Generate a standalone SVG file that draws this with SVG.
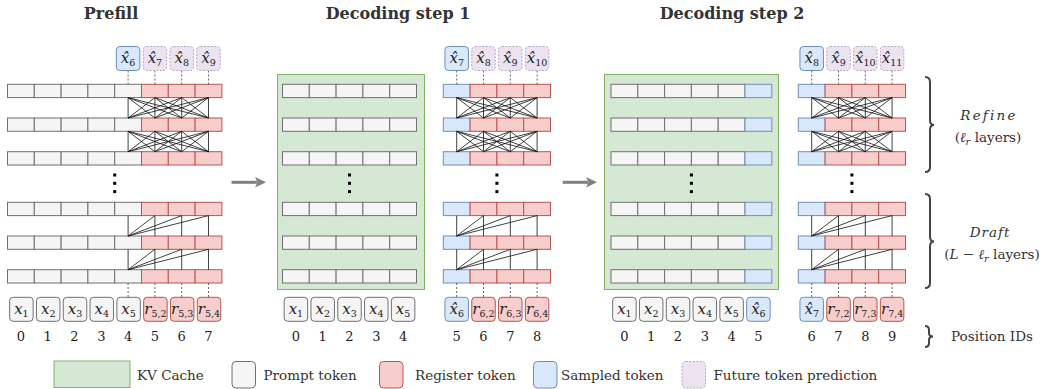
<svg xmlns="http://www.w3.org/2000/svg" xmlns:xlink="http://www.w3.org/1999/xlink" width="1049" height="389" viewBox="0 0 1049 389">
<style>
.g{fill:#f5f5f5;stroke:#707070;stroke-width:1}
.r{fill:#f8cecc;stroke:#b85450;stroke-width:1}
.b{fill:#dae8fc;stroke:#6c8ebf;stroke-width:1}
.f{fill:#ebe3f0;stroke:#b8a6c6;stroke-width:1;stroke-dasharray:2 1.5}
.kv{fill:#d5e8d4;stroke:#82b366;stroke-width:1}
.m{font-family:"DejaVu Serif",serif;font-style:italic;font-size:15px;fill:#222;text-anchor:middle}
.s{font-style:normal;font-size:9.5px}
.n{font-family:"DejaVu Serif",serif;font-size:13px;fill:#222;text-anchor:middle}
.t{font-family:"DejaVu Serif",serif;font-weight:bold;font-size:16px;fill:#333;text-anchor:middle}
.l{font-family:"DejaVu Serif",serif;font-size:13.5px;fill:#333}
.dash{stroke:#555;stroke-width:0.9;stroke-dasharray:2 2;fill:none}
.att{stroke:#111;stroke-width:0.8;fill:none}
.br{stroke:#444;stroke-width:2;fill:none}
.dot{fill:#000}
</style>
<defs>
<g id="rowP">
<rect class="g" x="7.5" y="0" width="26.8" height="13.3"/><rect class="g" x="34.3" y="0" width="26.8" height="13.3"/><rect class="g" x="61.1" y="0" width="26.8" height="13.3"/><rect class="g" x="87.9" y="0" width="26.8" height="13.3"/><rect class="g" x="114.7" y="0" width="26.8" height="13.3"/>
<rect class="r" x="141.5" y="0" width="26.8" height="13.3"/><rect class="r" x="168.3" y="0" width="26.8" height="13.3"/><rect class="r" x="195.1" y="0" width="26.8" height="13.3"/>
</g>
<g id="rowS1L">
<rect class="g" x="282.5" y="0" width="26.8" height="13.3"/><rect class="g" x="309.3" y="0" width="26.8" height="13.3"/><rect class="g" x="336.1" y="0" width="26.8" height="13.3"/><rect class="g" x="362.9" y="0" width="26.8" height="13.3"/><rect class="g" x="389.7" y="0" width="26.8" height="13.3"/>
</g>
<g id="rowS1R">
<rect class="b" x="443.3" y="0" width="26.8" height="13.3"/><rect class="r" x="470.1" y="0" width="26.8" height="13.3"/><rect class="r" x="496.9" y="0" width="26.8" height="13.3"/><rect class="r" x="523.7" y="0" width="26.8" height="13.3"/>
</g>
<g id="rowS2L">
<rect class="g" x="611" y="0" width="26.8" height="13.3"/><rect class="g" x="637.8" y="0" width="26.8" height="13.3"/><rect class="g" x="664.6" y="0" width="26.8" height="13.3"/><rect class="g" x="691.4" y="0" width="26.8" height="13.3"/><rect class="g" x="718.2" y="0" width="26.8" height="13.3"/><rect class="b" x="745" y="0" width="26.8" height="13.3"/>
</g>
<g id="rowS2R">
<rect class="b" x="798.3" y="0" width="26.8" height="13.3"/><rect class="r" x="825.1" y="0" width="26.8" height="13.3"/><rect class="r" x="851.9" y="0" width="26.8" height="13.3"/><rect class="r" x="878.7" y="0" width="26.8" height="13.3"/>
</g>
<path id="full" class="att" d="M0 0L0 20.4M0 0L26.8 20.4M0 0L53.6 20.4M0 0L80.4 20.4M26.8 0L0 20.4M26.8 0L26.8 20.4M26.8 0L53.6 20.4M26.8 0L80.4 20.4M53.6 0L0 20.4M53.6 0L26.8 20.4M53.6 0L53.6 20.4M53.6 0L80.4 20.4M80.4 0L0 20.4M80.4 0L26.8 20.4M80.4 0L53.6 20.4M80.4 0L80.4 20.4"/>
<path id="draft" class="att" d="M0 0V20.4M26.8 0V20.4M53.6 0V20.4M80.4 0V20.4M0 20.4L26.8 0M0 20.4L53.6 0M0 20.4L80.4 0"/>
<g id="dots"><rect class="dot" x="-1.5" y="173.5" width="3" height="3"/><rect class="dot" x="-1.5" y="181.8" width="3" height="3"/><rect class="dot" x="-1.5" y="190.1" width="3" height="3"/></g>
</defs>

<g id="titles">
<text class="t" x="111" y="19">Prefill</text>
<text class="t" x="398" y="19">Decoding step 1</text>
<text class="t" x="732" y="19">Decoding step 2</text>
</g>

<g id="kv-cache-1"><rect class="kv" x="277.5" y="74.5" width="147" height="215"/></g>
<g id="kv-cache-2"><rect class="kv" x="604.5" y="74.5" width="174" height="215"/></g>

<g id="prefill-layers">
<use href="#rowP" y="84.3"/><use href="#rowP" y="118"/><use href="#rowP" y="151.7"/>
<use href="#rowP" y="202.3"/><use href="#rowP" y="236"/><use href="#rowP" y="269.7"/>
<use href="#dots" x="114.7"/>
</g>
<g id="step1-layers">
<use href="#rowS1L" y="84.3"/><use href="#rowS1L" y="118"/><use href="#rowS1L" y="151.7"/>
<use href="#rowS1L" y="202.3"/><use href="#rowS1L" y="236"/><use href="#rowS1L" y="269.7"/>
<use href="#dots" x="349.5"/>
<use href="#rowS1R" y="84.3"/><use href="#rowS1R" y="118"/><use href="#rowS1R" y="151.7"/>
<use href="#rowS1R" y="202.3"/><use href="#rowS1R" y="236"/><use href="#rowS1R" y="269.7"/>
<use href="#dots" x="496.9"/>
</g>
<g id="step2-layers">
<use href="#rowS2L" y="84.3"/><use href="#rowS2L" y="118"/><use href="#rowS2L" y="151.7"/>
<use href="#rowS2L" y="202.3"/><use href="#rowS2L" y="236"/><use href="#rowS2L" y="269.7"/>
<use href="#dots" x="691.4"/>
<use href="#rowS2R" y="84.3"/><use href="#rowS2R" y="118"/><use href="#rowS2R" y="151.7"/>
<use href="#rowS2R" y="202.3"/><use href="#rowS2R" y="236"/><use href="#rowS2R" y="269.7"/>
<use href="#dots" x="851.9"/>
</g>

<g id="connectors">
<use href="#full" x="128.1" y="97.6"/><use href="#full" x="128.1" y="131.3"/>
<use href="#draft" x="128.1" y="215.6"/><use href="#draft" x="128.1" y="249.3"/>
<use href="#full" x="456.7" y="97.6"/><use href="#full" x="456.7" y="131.3"/>
<use href="#draft" x="456.7" y="215.6"/><use href="#draft" x="456.7" y="249.3"/>
<use href="#full" x="811.7" y="97.6"/><use href="#full" x="811.7" y="131.3"/>
<use href="#draft" x="811.7" y="215.6"/><use href="#draft" x="811.7" y="249.3"/>
<path class="dash" d="M128.1 70.5V84.3M154.9 70.5V84.3M181.7 70.5V84.3M208.5 70.5V84.3M128.1 283V297.3M154.9 283V297.3M181.7 283V297.3M208.5 283V297.3"/>
<path class="dash" d="M456.7 70.5V84.3M483.5 70.5V84.3M510.3 70.5V84.3M537.1 70.5V84.3M456.7 283V297.3M483.5 283V297.3M510.3 283V297.3M537.1 283V297.3"/>
<path class="dash" d="M811.7 70.5V84.3M838.5 70.5V84.3M865.3 70.5V84.3M892.1 70.5V84.3M811.7 283V297.3M838.5 283V297.3M865.3 283V297.3M892.1 283V297.3"/>
<path d="M231.5 182.3H257" stroke="#808080" stroke-width="3" fill="none"/>
<polygon points="266,182.3 255,177 257.5,182.3 255,187.6" fill="#808080"/>
<path d="M562.7 182.3H588" stroke="#808080" stroke-width="3" fill="none"/>
<polygon points="597,182.3 586,177 588.5,182.3 586,187.6" fill="#808080"/>
</g>

<g id="prefill-predictions">
<rect class="b" x="116.35" y="46.5" width="23.5" height="24" rx="3.5"/><text class="m" x="128.1" y="62.5">x&#x302;<tspan class="s" dy="3">6</tspan></text>
<rect class="f" x="143.15" y="46.5" width="23.5" height="24" rx="3.5"/><text class="m" x="154.9" y="62.5">x&#x302;<tspan class="s" dy="3">7</tspan></text>
<rect class="f" x="169.95" y="46.5" width="23.5" height="24" rx="3.5"/><text class="m" x="181.7" y="62.5">x&#x302;<tspan class="s" dy="3">8</tspan></text>
<rect class="f" x="196.75" y="46.5" width="23.5" height="24" rx="3.5"/><text class="m" x="208.5" y="62.5">x&#x302;<tspan class="s" dy="3">9</tspan></text>
</g>
<g id="step1-predictions">
<rect class="b" x="444.95" y="46.5" width="23.5" height="24" rx="3.5"/><text class="m" x="456.7" y="62.5">x&#x302;<tspan class="s" dy="3">7</tspan></text>
<rect class="f" x="471.75" y="46.5" width="23.5" height="24" rx="3.5"/><text class="m" x="483.5" y="62.5">x&#x302;<tspan class="s" dy="3">8</tspan></text>
<rect class="f" x="498.55" y="46.5" width="23.5" height="24" rx="3.5"/><text class="m" x="510.3" y="62.5">x&#x302;<tspan class="s" dy="3">9</tspan></text>
<rect class="f" x="525.35" y="46.5" width="23.5" height="24" rx="3.5"/><text class="m" x="537.1" y="62.5">x&#x302;<tspan class="s" dy="3">10</tspan></text>
</g>
<g id="step2-predictions">
<rect class="b" x="799.95" y="46.5" width="23.5" height="24" rx="3.5"/><text class="m" x="811.7" y="62.5">x&#x302;<tspan class="s" dy="3">8</tspan></text>
<rect class="f" x="826.75" y="46.5" width="23.5" height="24" rx="3.5"/><text class="m" x="838.5" y="62.5">x&#x302;<tspan class="s" dy="3">9</tspan></text>
<rect class="f" x="853.55" y="46.5" width="23.5" height="24" rx="3.5"/><text class="m" x="865.3" y="62.5">x&#x302;<tspan class="s" dy="3">10</tspan></text>
<rect class="f" x="880.35" y="46.5" width="23.5" height="24" rx="3.5"/><text class="m" x="892.1" y="62.5">x&#x302;<tspan class="s" dy="3">11</tspan></text>
</g>

<g id="prefill-inputs">
<rect class="g" x="9.65" y="297.3" width="23.5" height="24" rx="3.5"/><text class="m" x="21.4" y="313.5">x<tspan class="s" dy="3">1</tspan></text>
<rect class="g" x="36.45" y="297.3" width="23.5" height="24" rx="3.5"/><text class="m" x="48.2" y="313.5">x<tspan class="s" dy="3">2</tspan></text>
<rect class="g" x="63.25" y="297.3" width="23.5" height="24" rx="3.5"/><text class="m" x="75" y="313.5">x<tspan class="s" dy="3">3</tspan></text>
<rect class="g" x="90.05" y="297.3" width="23.5" height="24" rx="3.5"/><text class="m" x="101.8" y="313.5">x<tspan class="s" dy="3">4</tspan></text>
<rect class="g" x="116.85" y="297.3" width="23.5" height="24" rx="3.5"/><text class="m" x="128.6" y="313.5">x<tspan class="s" dy="3">5</tspan></text>
<rect class="r" x="143.65" y="297.3" width="23.5" height="24" rx="3.5"/><text class="m" x="155.4" y="313.5">r<tspan class="s" dy="3">5,2</tspan></text>
<rect class="r" x="170.45" y="297.3" width="23.5" height="24" rx="3.5"/><text class="m" x="182.2" y="313.5">r<tspan class="s" dy="3">5,3</tspan></text>
<rect class="r" x="197.25" y="297.3" width="23.5" height="24" rx="3.5"/><text class="m" x="209" y="313.5">r<tspan class="s" dy="3">5,4</tspan></text>
<text class="n" x="20.9" y="341">0</text><text class="n" x="47.7" y="341">1</text><text class="n" x="74.5" y="341">2</text><text class="n" x="101.3" y="341">3</text><text class="n" x="128.1" y="341">4</text><text class="n" x="154.9" y="341">5</text><text class="n" x="181.7" y="341">6</text><text class="n" x="208.5" y="341">7</text>
</g>
<g id="step1-inputs">
<rect class="g" x="284.15" y="297.3" width="23.5" height="24" rx="3.5"/><text class="m" x="295.9" y="313.5">x<tspan class="s" dy="3">1</tspan></text>
<rect class="g" x="310.95" y="297.3" width="23.5" height="24" rx="3.5"/><text class="m" x="322.7" y="313.5">x<tspan class="s" dy="3">2</tspan></text>
<rect class="g" x="337.75" y="297.3" width="23.5" height="24" rx="3.5"/><text class="m" x="349.5" y="313.5">x<tspan class="s" dy="3">3</tspan></text>
<rect class="g" x="364.55" y="297.3" width="23.5" height="24" rx="3.5"/><text class="m" x="376.3" y="313.5">x<tspan class="s" dy="3">4</tspan></text>
<rect class="g" x="391.35" y="297.3" width="23.5" height="24" rx="3.5"/><text class="m" x="403.1" y="313.5">x<tspan class="s" dy="3">5</tspan></text>
<rect class="b" x="444.95" y="297.3" width="23.5" height="24" rx="3.5"/><text class="m" x="456.7" y="313.5">x&#x302;<tspan class="s" dy="3">6</tspan></text>
<rect class="r" x="471.75" y="297.3" width="23.5" height="24" rx="3.5"/><text class="m" x="483.5" y="313.5">r<tspan class="s" dy="3">6,2</tspan></text>
<rect class="r" x="498.55" y="297.3" width="23.5" height="24" rx="3.5"/><text class="m" x="510.3" y="313.5">r<tspan class="s" dy="3">6,3</tspan></text>
<rect class="r" x="525.35" y="297.3" width="23.5" height="24" rx="3.5"/><text class="m" x="537.1" y="313.5">r<tspan class="s" dy="3">6,4</tspan></text>
<text class="n" x="295.9" y="341">0</text><text class="n" x="322.7" y="341">1</text><text class="n" x="349.5" y="341">2</text><text class="n" x="376.3" y="341">3</text><text class="n" x="403.1" y="341">4</text><text class="n" x="456.7" y="341">5</text><text class="n" x="483.5" y="341">6</text><text class="n" x="510.3" y="341">7</text><text class="n" x="537.1" y="341">8</text>
</g>
<g id="step2-inputs">
<rect class="g" x="612.65" y="297.3" width="23.5" height="24" rx="3.5"/><text class="m" x="624.4" y="313.5">x<tspan class="s" dy="3">1</tspan></text>
<rect class="g" x="639.45" y="297.3" width="23.5" height="24" rx="3.5"/><text class="m" x="651.2" y="313.5">x<tspan class="s" dy="3">2</tspan></text>
<rect class="g" x="666.25" y="297.3" width="23.5" height="24" rx="3.5"/><text class="m" x="678" y="313.5">x<tspan class="s" dy="3">3</tspan></text>
<rect class="g" x="693.05" y="297.3" width="23.5" height="24" rx="3.5"/><text class="m" x="704.8" y="313.5">x<tspan class="s" dy="3">4</tspan></text>
<rect class="g" x="719.85" y="297.3" width="23.5" height="24" rx="3.5"/><text class="m" x="731.6" y="313.5">x<tspan class="s" dy="3">5</tspan></text>
<rect class="b" x="746.65" y="297.3" width="23.5" height="24" rx="3.5"/><text class="m" x="758.4" y="313.5">x&#x302;<tspan class="s" dy="3">6</tspan></text>
<rect class="b" x="799.95" y="297.3" width="23.5" height="24" rx="3.5"/><text class="m" x="811.7" y="313.5">x&#x302;<tspan class="s" dy="3">7</tspan></text>
<rect class="r" x="826.75" y="297.3" width="23.5" height="24" rx="3.5"/><text class="m" x="838.5" y="313.5">r<tspan class="s" dy="3">7,2</tspan></text>
<rect class="r" x="853.55" y="297.3" width="23.5" height="24" rx="3.5"/><text class="m" x="865.3" y="313.5">r<tspan class="s" dy="3">7,3</tspan></text>
<rect class="r" x="880.35" y="297.3" width="23.5" height="24" rx="3.5"/><text class="m" x="892.1" y="313.5">r<tspan class="s" dy="3">7,4</tspan></text>
<text class="n" x="624.4" y="341">0</text><text class="n" x="651.2" y="341">1</text><text class="n" x="678" y="341">2</text><text class="n" x="704.8" y="341">3</text><text class="n" x="731.6" y="341">4</text><text class="n" x="758.4" y="341">5</text><text class="n" x="811.7" y="341">6</text><text class="n" x="838.5" y="341">7</text><text class="n" x="865.3" y="341">8</text><text class="n" x="892.1" y="341">9</text>
</g>

<g id="braces">
<path class="br" d="M925 77Q930 77 930 82V120Q930 125 934 125Q930 125 930 130V167Q930 172 925 172"/>
<path class="br" d="M925 194Q930 194 930 199V236.5Q930 241.5 934 241.5Q930 241.5 930 246.5V283Q930 288 925 288"/>
<path class="br" d="M925 326Q929 326 929 330V333Q929 336.5 933 336.5Q929 336.5 929 340V343Q929 347 925 347"/>
<text class="l" x="989" y="120" text-anchor="middle" font-style="italic" font-size="14.5" letter-spacing="2.2">Refine</text>
<text class="l" x="988" y="142" text-anchor="middle" font-size="14">(<tspan font-style="italic">ℓ</tspan><tspan font-style="italic" font-size="10" dy="3">r</tspan><tspan dy="-3"> layers)</tspan></text>
<text class="l" x="990" y="236.5" text-anchor="middle" font-style="italic" font-size="14.5" letter-spacing="1">Draft</text>
<text class="l" x="992" y="259" text-anchor="middle" font-size="14">(<tspan font-style="italic">L</tspan> − <tspan font-style="italic">ℓ</tspan><tspan font-style="italic" font-size="10" dy="3">r</tspan><tspan dy="-3"> layers)</tspan></text>
<text class="l" x="992" y="341" text-anchor="middle">Position IDs</text>
</g>

<g id="legend">
<rect class="kv" x="54" y="361" width="76" height="26.5"/><text class="l" x="137" y="380">KV Cache</text>
<rect class="g" x="232" y="361.5" width="23.5" height="26.5" rx="4"/><text class="l" x="263.5" y="380">Prompt token</text>
<rect class="r" x="379.5" y="361.5" width="23.5" height="26.5" rx="4"/><text class="l" x="415" y="380">Register token</text>
<rect class="b" x="533.5" y="361.5" width="23.5" height="26.5" rx="4"/><text class="l" x="561" y="380">Sampled token</text>
<rect class="f" x="682" y="361.5" width="23.5" height="26.5" rx="4"/><text class="l" x="713.5" y="380">Future token prediction</text>
</g>
</svg>
